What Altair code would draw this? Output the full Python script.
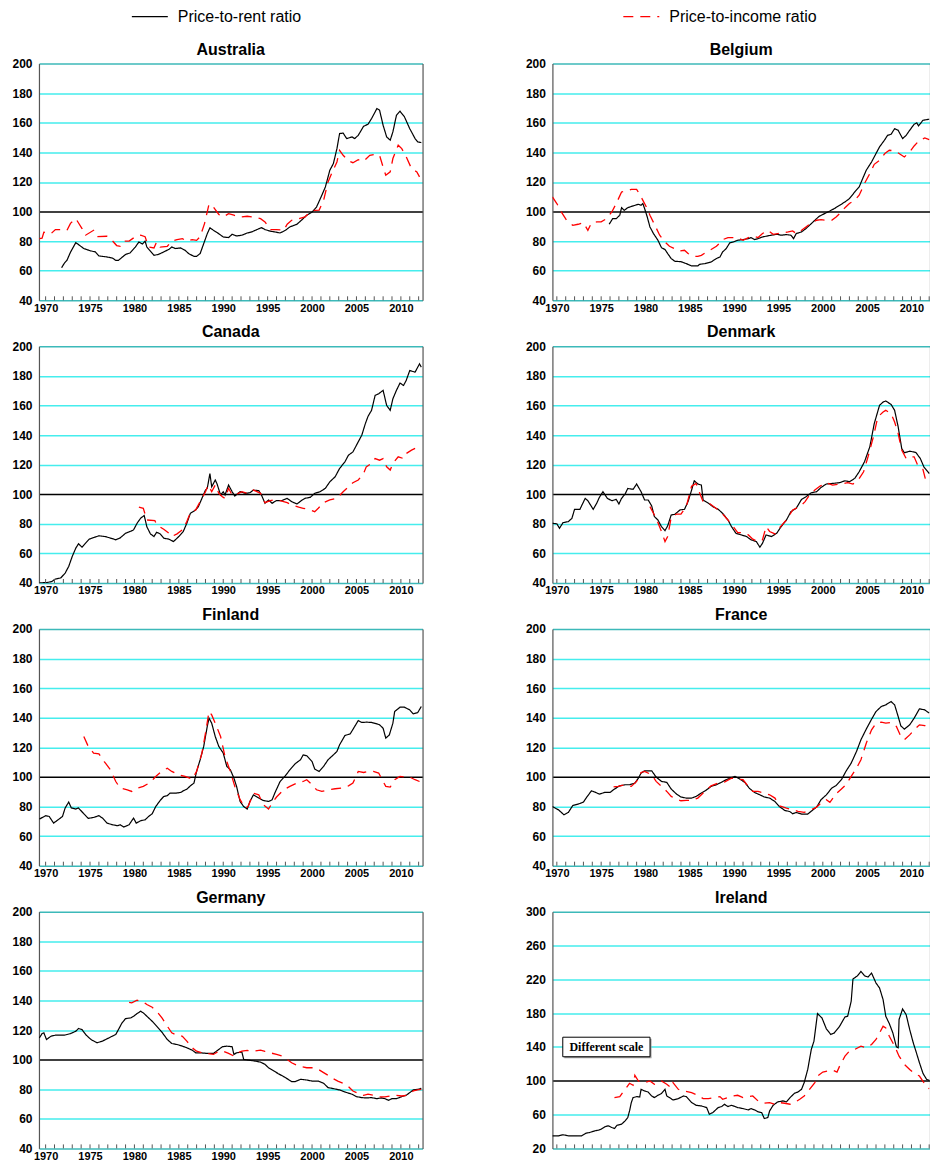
import altair as alt
import pandas as pd

# ---------------------------------------------------------------------------
# Series, axis ticks and styling
# ---------------------------------------------------------------------------
SERIES = ["Price-to-rent ratio", "Price-to-income ratio"]
SERIES_COLORS = ["#000000", "#FF0000"]
SERIES_DASHES = [[1, 0], [10, 7]]

YEAR_LABELS = [1970, 1975, 1980, 1985, 1990, 1995, 2000, 2005, 2010]
YEAR_TICKS = list(range(1970, 2013))
STD_TICKS = [40, 60, 80, 100, 120, 140, 160, 180, 200]
IRL_TICKS = [20, 60, 100, 140, 180, 220, 260, 300]

GRID = "#45EDED"
EDGE = "#3CB9B9"
FRAME = "#555555"
FONT = "Liberation Sans"

# ---------------------------------------------------------------------------
# Data: (year, index) pairs, long-run average = 100
# ---------------------------------------------------------------------------
AUSTRALIA_RENT = [
    (1971.8, 62), (1972.1, 65), (1972.4, 67), (1972.8, 72.5), (1973.4, 79), (1974.3, 75),
    (1975.0, 73.5), (1975.6, 72.7), (1976.0, 70), (1976.9, 69.3), (1977.5, 68.6), (1977.9, 67),
    (1978.2, 67), (1979.0, 71), (1979.5, 72), (1980.1, 76), (1980.5, 79.4), (1980.9, 78),
    (1981.2, 80), (1981.4, 76), (1982.2, 70.4), (1982.7, 71), (1983.3, 72.7), (1983.9, 74.5),
    (1984.2, 76), (1984.6, 75), (1985.2, 75.4), (1985.7, 73.8), (1986.1, 71.6), (1986.7, 69.7),
    (1987.0, 69.7), (1987.4, 71.6), (1987.8, 78.3), (1988.2, 85), (1988.5, 89), (1988.9, 87.3),
    (1989.5, 85), (1990.0, 82.8), (1990.6, 82.4), (1991.0, 84.6), (1991.5, 83.5), (1992.1, 84),
    (1992.7, 85.5), (1993.2, 86.2), (1993.8, 87.8), (1994.3, 89.1), (1994.7, 87.8), (1995.3, 86.7),
    (1995.8, 86.2), (1996.4, 85.5), (1997.0, 87.3), (1997.5, 89.6), (1998.3, 91.4), (1998.8, 94.1),
    (1999.4, 97.5), (2000.0, 99.7), (2000.5, 103), (2001.1, 111), (2001.5, 116.6), (2002.0, 127.9),
    (2002.4, 132.4), (2002.8, 142.5), (2003.1, 152.7), (2003.5, 153), (2003.9, 149.3), (2004.5, 150.4),
    (2004.8, 149.3), (2005.2, 151.5), (2005.8, 157.6), (2006.3, 159), (2006.7, 162.8), (2007.3, 169.6),
    (2007.6, 168.5), (2008.0, 158.3), (2008.4, 150.4), (2008.8, 148.2), (2009.1, 153.8), (2009.5, 165),
    (2009.9, 167.8), (2010.4, 164), (2011.0, 156), (2011.6, 149.3), (2011.9, 147), (2012.3, 146.6),
]
AUSTRALIA_INCOME = [
    (1969.3, 81.7), (1969.6, 82), (1969.8, 86), (1970.6, 85), (1971.1, 87.8), (1971.9, 87.8),
    (1972.4, 87.3), (1972.8, 92), (1973.4, 95.2), (1974.1, 88.5), (1974.5, 84), (1975.4, 87.3),
    (1975.8, 83), (1976.9, 83.3), (1977.3, 81.7), (1978.0, 77), (1978.4, 76.5), (1978.8, 80),
    (1979.4, 80), (1980.1, 83), (1980.7, 84), (1981.2, 83), (1981.6, 76), (1982.2, 75.4),
    (1982.5, 79.4), (1982.9, 76), (1983.7, 76.5), (1984.2, 80), (1984.8, 81), (1985.4, 81.7),
    (1985.9, 80), (1986.5, 81), (1987.0, 80.5), (1987.4, 83), (1987.9, 92), (1988.4, 105),
    (1988.9, 103), (1989.5, 98), (1990.0, 96.3), (1990.6, 98.6), (1991.2, 97.5), (1991.9, 96.3),
    (1992.7, 96.8), (1993.4, 96.3), (1994.2, 95.2), (1994.7, 93), (1995.3, 87.8), (1996.0, 87.8),
    (1996.8, 87.3), (1997.2, 91.4), (1997.7, 94.1), (1998.5, 95.2), (1999.2, 96.3), (1999.8, 99.7),
    (2000.3, 100.8), (2000.8, 101), (2001.3, 107.6), (2001.8, 120), (2002.2, 125.6), (2002.8, 133.5),
    (2003.1, 141.4), (2003.5, 138), (2004.1, 134.2), (2004.6, 133), (2005.2, 135), (2005.8, 134),
    (2006.5, 138), (2007.1, 138.7), (2007.6, 138), (2008.0, 130), (2008.3, 124.5), (2008.8, 126.8),
    (2009.1, 135.8), (2009.7, 144.8), (2010.1, 142.5), (2010.6, 137), (2011.2, 129), (2011.8, 126.8),
    (2012.1, 123.4),
]

BELGIUM_RENT = [
    (1975.9, 91.4), (1976.3, 95.2), (1976.7, 95.2), (1977.1, 97.5), (1977.3, 102.6), (1977.6, 100.8),
    (1978.0, 102.6), (1978.6, 103.8), (1979.2, 104.9), (1979.5, 104.2), (1979.7, 105.4), (1979.9, 102),
    (1980.2, 96.3), (1980.5, 89.6), (1980.9, 85.1), (1981.4, 80.6), (1981.8, 75.6), (1982.2, 74.3),
    (1982.5, 71.6), (1982.9, 68.2), (1983.3, 66.4), (1984.0, 66.1), (1984.6, 64.8), (1985.2, 63.2),
    (1985.9, 63.2), (1986.1, 64.3), (1986.7, 64.8), (1987.4, 65.9), (1988.0, 68.2), (1988.4, 69.3),
    (1988.7, 72.7), (1989.1, 74.9), (1989.5, 78.8), (1989.9, 79.4), (1990.4, 80.6), (1991.0, 81),
    (1991.6, 81.7), (1991.9, 82.4), (1992.3, 81), (1992.7, 81.7), (1993.2, 82.8), (1993.6, 83.3),
    (1994.2, 84), (1994.8, 84.6), (1995.3, 84), (1995.9, 84.4), (1996.4, 84), (1996.7, 81.7),
    (1997.0, 85.1), (1997.6, 86.2), (1998.1, 88.5), (1998.7, 91.8), (1999.3, 95.2), (1999.6, 96.8),
    (2000.2, 98.6), (2000.8, 100.4), (2001.3, 102), (2001.9, 104.2), (2002.5, 106.5), (2003.0, 108.7),
    (2003.6, 113.2), (2004.1, 116.6), (2004.5, 122.3), (2004.9, 127.9), (2005.5, 133.5), (2006.0, 139.2),
    (2006.4, 143.7), (2007.0, 148.6), (2007.3, 151.5), (2007.7, 152.2), (2008.1, 156), (2008.5, 154.9),
    (2008.8, 151.5), (2009.0, 149.3), (2009.4, 151.5), (2009.8, 154.9), (2010.3, 159), (2010.6, 159.9),
    (2010.8, 157.9), (2011.3, 161.7), (2012.0, 162.4),
]
BELGIUM_INCOME = [
    (1969.5, 109.9), (1970.0, 105.4), (1970.5, 99.7), (1971.1, 94.1), (1971.8, 90.7), (1972.4, 91.4),
    (1973.0, 92.5), (1973.5, 87.3), (1973.9, 92.3), (1974.5, 93), (1975.0, 93), (1975.6, 95.2),
    (1976.2, 99.7), (1976.7, 105.4), (1977.3, 113.2), (1977.8, 113.9), (1978.4, 115), (1979.0, 115),
    (1979.5, 109.9), (1980.1, 103.1), (1980.5, 97.5), (1981.0, 91.4), (1981.6, 84), (1982.2, 79.4),
    (1982.7, 76.5), (1983.3, 74.9), (1983.9, 73.4), (1984.4, 73.8), (1984.8, 71.6), (1985.4, 69.7),
    (1985.9, 69.7), (1986.3, 70.4), (1986.9, 72.7), (1987.4, 74.3), (1988.0, 76.5), (1988.4, 78.8),
    (1988.7, 81), (1989.3, 82.4), (1989.9, 82.4), (1990.4, 82.4), (1991.0, 80.6), (1991.6, 82.4),
    (1992.1, 83.3), (1992.7, 82.4), (1993.2, 85.1), (1993.8, 87.3), (1994.4, 84.6), (1994.9, 85.1),
    (1995.5, 85.5), (1996.1, 86.2), (1996.6, 86.9), (1997.0, 85.1), (1997.6, 87.3), (1998.1, 89.6),
    (1998.7, 92.3), (1999.3, 94.1), (1999.8, 94.5), (2000.4, 94.1), (2001.0, 94.1), (2001.5, 96.3),
    (2001.9, 98.6), (2002.5, 102.6), (2003.0, 105.4), (2003.6, 107.6), (2004.1, 111), (2004.7, 118.9),
    (2005.3, 125.6), (2005.8, 131.9), (2006.4, 134.6), (2007.0, 139.2), (2007.5, 141.4), (2008.1, 141),
    (2008.6, 139.2), (2009.2, 136.9), (2009.8, 140.3), (2010.3, 144.3), (2010.9, 148.2), (2011.5, 149.7),
    (2012.0, 148.6),
]

CANADA_RENT = [
    (1969.3, 40), (1970.2, 40.4), (1970.7, 41), (1971.1, 42.7), (1971.7, 43.4), (1972.2, 46.7),
    (1972.6, 51.2), (1973.0, 58), (1973.4, 63.6), (1973.7, 66.5), (1974.1, 64.2), (1974.5, 67),
    (1974.9, 69.6), (1975.4, 70.7), (1976.0, 71.9), (1976.7, 71.4), (1977.5, 70), (1977.9, 69.2),
    (1978.4, 70.5), (1979.0, 73.6), (1979.6, 75), (1979.9, 75.9), (1980.3, 80.4), (1980.7, 83.8),
    (1981.1, 85.6), (1981.4, 78), (1981.8, 73.2), (1982.2, 71.4), (1982.5, 74.3), (1982.9, 73.2),
    (1983.3, 70.3), (1983.9, 69.6), (1984.4, 68), (1985.0, 71.4), (1985.5, 74.8), (1985.9, 80.4),
    (1986.3, 87.1), (1986.9, 89.4), (1987.2, 91.6), (1987.6, 97.2), (1988.0, 102.8), (1988.2, 104),
    (1988.5, 114), (1988.7, 105), (1989.1, 109.6), (1989.3, 107), (1989.7, 99.5), (1990.0, 101.7),
    (1990.2, 99.5), (1990.6, 106.2), (1991.0, 101.7), (1991.3, 98.8), (1991.9, 101.7), (1992.5, 100.6),
    (1993.0, 101), (1993.4, 102.8), (1994.0, 102.4), (1994.3, 99.5), (1994.7, 93.9), (1995.1, 96.1),
    (1995.5, 93.9), (1996.0, 95.7), (1996.6, 95.7), (1997.2, 97.2), (1997.7, 95), (1998.3, 93.4),
    (1998.8, 95.7), (1999.2, 97.2), (1999.8, 97.9), (2000.3, 100.6), (2000.9, 101.7), (2001.5, 104),
    (2002.0, 108.4), (2002.6, 111.8), (2003.1, 117.4), (2003.7, 121.9), (2004.1, 126.4), (2004.6, 128.6),
    (2005.2, 135.4), (2005.6, 139.9), (2006.0, 147.7), (2006.3, 152.6), (2006.7, 156.7), (2007.1, 166.8),
    (2007.5, 167.9), (2008.0, 170.2), (2008.4, 160), (2008.8, 156.7), (2009.1, 164.5), (2009.5, 170.2),
    (2009.9, 175.1), (2010.3, 173.5), (2010.6, 176.9), (2011.0, 183.6), (2011.6, 182.5), (2012.1, 188.1),
    (2012.3, 185.9),
]
CANADA_INCOME = [
    (1980.5, 91.2), (1981.0, 90.5), (1981.4, 82.6), (1982.3, 82.2), (1982.5, 79.3), (1983.3, 76.3),
    (1983.9, 73.6), (1984.2, 71.4), (1984.8, 73.2), (1985.4, 75.9), (1985.9, 81.5), (1986.3, 87.6),
    (1986.9, 89.4), (1987.4, 95), (1988.0, 101.7), (1988.3, 106.2), (1988.7, 101.7), (1989.1, 106.2),
    (1989.5, 100.6), (1989.9, 98.3), (1990.2, 97.2), (1990.6, 104), (1991.0, 99.5), (1991.5, 100),
    (1992.1, 101.7), (1992.7, 100.6), (1993.4, 102.8), (1994.2, 100.6), (1994.7, 94.3), (1995.3, 95.7),
    (1995.8, 96.1), (1996.4, 95.7), (1997.2, 94.3), (1997.7, 92.7), (1998.5, 91.2), (1999.0, 90.5),
    (1999.8, 89.4), (2000.3, 88.2), (2000.7, 90.5), (2001.3, 94.3), (2002.0, 96.1), (2002.8, 97.2),
    (2003.5, 101.7), (2004.1, 105), (2004.6, 107.8), (2005.2, 109.6), (2005.8, 114), (2006.1, 118.5),
    (2006.7, 120.8), (2007.1, 124.1), (2007.6, 123), (2008.0, 124.1), (2008.4, 118.5), (2008.8, 116.3),
    (2009.1, 120.8), (2009.7, 125.3), (2010.3, 124.1), (2010.6, 127.5), (2011.2, 129.8), (2011.8, 131.6),
    (2012.2, 133.1),
]

DENMARK_RENT = [
    (1969.5, 80.4), (1970.0, 80), (1970.3, 77), (1970.7, 80.8), (1971.3, 81.5), (1971.7, 83.7),
    (1972.0, 89.8), (1972.6, 89.8), (1973.2, 97.2), (1973.5, 95.6), (1974.1, 89.8), (1974.5, 93.9),
    (1974.8, 97.9), (1975.2, 101.7), (1975.7, 97.2), (1976.2, 95.6), (1976.7, 96.5), (1977.0, 93.4),
    (1977.3, 97.2), (1977.7, 100.1), (1978.0, 103.9), (1978.6, 103.3), (1979.0, 106.9), (1979.5, 101.7),
    (1979.9, 96.1), (1980.3, 96.1), (1980.7, 92.1), (1981.0, 84.9), (1981.4, 82.6), (1981.8, 78.1),
    (1982.2, 75.4), (1982.5, 78.6), (1982.9, 86), (1983.3, 86.4), (1983.9, 89.4), (1984.4, 89.8),
    (1984.8, 95), (1985.2, 102.8), (1985.5, 109.1), (1985.9, 106.9), (1986.3, 106.2), (1986.5, 96.1),
    (1987.1, 93.9), (1987.6, 91.6), (1988.2, 89.8), (1988.7, 87.1), (1989.3, 82.6), (1989.7, 78.1),
    (1990.2, 73.6), (1990.8, 72.5), (1991.4, 71.4), (1991.9, 69.2), (1992.5, 68), (1992.9, 64.2),
    (1993.2, 66.9), (1993.6, 72.5), (1994.2, 71.4), (1994.8, 73.6), (1995.3, 78.1), (1995.9, 82.6),
    (1996.4, 88.2), (1997.0, 90.5), (1997.6, 96.5), (1998.1, 98.3), (1998.7, 101), (1999.3, 101.7),
    (1999.8, 104.6), (2000.4, 106.9), (2001.1, 107.3), (2001.9, 107.8), (2002.5, 109.1), (2003.0, 108.4),
    (2003.6, 110.7), (2004.1, 115.2), (2004.7, 121.9), (2005.3, 132), (2005.8, 147.7), (2006.4, 160.1),
    (2006.8, 162.3), (2007.1, 163), (2007.7, 160.7), (2008.1, 156.7), (2008.5, 145.5), (2008.9, 130.9),
    (2009.2, 128), (2009.8, 129.1), (2010.5, 128.2), (2011.0, 124.1), (2011.4, 118.5), (2012.0, 114),
]
DENMARK_INCOME = [
    (1980.5, 91.6), (1981.2, 83.8), (1981.8, 74.8), (1982.2, 68), (1982.5, 71.4), (1982.9, 84.4),
    (1983.5, 86.6), (1984.0, 86.6), (1984.6, 91.6), (1985.2, 105.5), (1985.7, 107.3), (1986.1, 101),
    (1986.5, 95), (1987.1, 94.3), (1987.6, 92.1), (1988.2, 89.4), (1988.7, 86.6), (1989.3, 82.6),
    (1989.9, 78.1), (1990.4, 74.1), (1991.0, 74.1), (1991.6, 72.5), (1992.1, 69.6), (1992.7, 68),
    (1993.2, 69.2), (1993.6, 78.1), (1994.0, 74.8), (1994.6, 73.2), (1995.3, 78.6), (1995.9, 82.6),
    (1996.6, 89.4), (1997.4, 91.6), (1998.0, 95), (1998.5, 99.5), (1999.1, 102.8), (1999.7, 105.5),
    (2000.4, 107.8), (2001.1, 106.2), (2002.1, 106.9), (2002.8, 107.8), (2003.4, 106.9), (2004.0, 109.6),
    (2004.6, 115.2), (2005.1, 125.3), (2005.7, 138.7), (2006.2, 152.2), (2006.8, 155.6), (2007.1, 156.7),
    (2007.7, 154.4), (2008.1, 148.8), (2008.5, 141), (2008.9, 129.8), (2009.4, 124.1), (2009.8, 125.3),
    (2010.3, 125.3), (2010.7, 119.7), (2011.3, 116.7), (2011.6, 109.6), (2012.0, 108.4),
]

FINLAND_RENT = [
    (1969.3, 71.5), (1970.0, 73.8), (1970.4, 73.3), (1970.9, 68.8), (1971.4, 71), (1971.9, 73.3),
    (1972.2, 79), (1972.6, 83), (1972.9, 79), (1973.4, 78.3), (1973.7, 79), (1974.3, 75.1),
    (1974.8, 72), (1975.4, 72.6), (1976.0, 73.8), (1976.4, 72.2), (1976.9, 68.8), (1977.5, 67.7),
    (1978.1, 67), (1978.4, 67.7), (1978.8, 66.1), (1979.4, 67.7), (1979.9, 72.2), (1980.2, 68.8),
    (1980.7, 70.4), (1981.2, 71), (1981.6, 73.3), (1982.0, 75.1), (1982.4, 80), (1982.9, 84.1),
    (1983.3, 86.8), (1983.7, 87.3), (1984.0, 89), (1984.6, 89), (1985.2, 89.5), (1985.5, 90.6),
    (1985.9, 91.7), (1986.3, 94), (1986.7, 95.8), (1987.0, 103.7), (1987.4, 111.6), (1987.8, 120.6),
    (1988.2, 134.1), (1988.4, 139.7), (1988.7, 136.3), (1989.1, 127.3), (1989.5, 120.6), (1990.0, 116.1),
    (1990.4, 107.1), (1990.8, 104.8), (1991.2, 99.2), (1991.5, 93.6), (1991.9, 83.4), (1992.3, 80),
    (1992.7, 78.3), (1993.0, 83.4), (1993.4, 87.9), (1994.0, 85.7), (1994.5, 84.1), (1995.1, 83.4),
    (1995.5, 84.5), (1995.8, 89), (1996.4, 96.9), (1997.0, 100.8), (1997.5, 104.8), (1998.1, 108.9),
    (1998.7, 111.6), (1999.0, 114.9), (1999.4, 114.3), (2000.0, 110.4), (2000.3, 105.3), (2000.8, 103.7),
    (2001.3, 107.1), (2001.8, 111.6), (2002.4, 114.9), (2002.8, 117.2), (2003.1, 121.7), (2003.7, 128),
    (2004.3, 129.1), (2004.8, 134.1), (2005.2, 138.1), (2005.6, 136.8), (2006.1, 137), (2006.7, 136.8),
    (2007.3, 135.9), (2007.6, 135.2), (2008.0, 132.9), (2008.3, 126.2), (2008.7, 128.4), (2009.1, 136.3),
    (2009.3, 144.2), (2009.9, 147.1), (2010.4, 147.1), (2011.0, 145.3), (2011.4, 142.6), (2011.9, 143.5),
    (2012.3, 147.6),
]
FINLAND_INCOME = [
    (1974.3, 127.3), (1974.8, 120.6), (1975.4, 116.1), (1976.0, 115.6), (1976.6, 110.4), (1977.3, 104.8),
    (1977.9, 96.9), (1978.4, 92.4), (1979.2, 91.3), (1979.7, 90.2), (1980.3, 92.4), (1981.0, 93.6),
    (1981.8, 96.3), (1982.4, 100.3), (1982.9, 103), (1983.7, 105.9), (1984.2, 103.7), (1985.0, 101.4),
    (1985.7, 100.3), (1986.5, 98.5), (1987.0, 103.7), (1987.6, 116.1), (1988.0, 129.6), (1988.4, 144.2),
    (1988.7, 141.9), (1989.1, 136.3), (1989.7, 127.3), (1990.2, 113.8), (1990.8, 103.7), (1991.3, 93.6),
    (1991.9, 84.6), (1992.5, 79), (1992.8, 80), (1993.4, 89), (1994.0, 87.9), (1994.5, 81.2),
    (1995.1, 78.3), (1995.5, 82.3), (1996.0, 86.4), (1996.8, 91.3), (1997.5, 93.6), (1998.3, 95.8),
    (1999.0, 96.9), (1999.4, 98.1), (2000.0, 94.7), (2000.5, 91.3), (2001.1, 90.2), (2001.8, 91.3),
    (2002.6, 92), (2003.3, 92.4), (2004.1, 94), (2004.6, 95.8), (2005.2, 103.7), (2005.8, 103),
    (2006.3, 103.7), (2006.9, 103.7), (2007.5, 102.6), (2007.9, 98.1), (2008.3, 93.6), (2008.8, 93.1),
    (2009.3, 98.1), (2009.9, 100.3), (2010.4, 99.9), (2011.0, 99.9), (2011.6, 98.1), (2012.1, 96.9),
]

FRANCE_RENT = [
    (1969.5, 80), (1970.2, 77.7), (1970.8, 74.4), (1971.3, 76), (1971.8, 80.7), (1972.4, 81.6),
    (1973.0, 83), (1973.3, 85.7), (1973.9, 90.6), (1974.3, 89.7), (1974.8, 88.4), (1975.4, 89.5),
    (1976.0, 89.5), (1976.5, 91.8), (1977.1, 94), (1977.7, 94.7), (1978.2, 94.7), (1978.8, 95.8),
    (1979.2, 99.2), (1979.5, 102.6), (1979.9, 104.1), (1980.7, 104.1), (1981.2, 99.9), (1981.8, 97),
    (1982.4, 96.3), (1982.9, 91.8), (1983.5, 88.4), (1984.0, 86.4), (1984.6, 85.7), (1985.2, 85.7),
    (1985.7, 86.8), (1986.3, 89.1), (1986.9, 91.3), (1987.4, 93.6), (1988.0, 94.7), (1988.6, 96.5),
    (1989.1, 98.1), (1989.7, 99.6), (1990.1, 100.3), (1990.6, 98.7), (1991.2, 96.3), (1991.7, 92.4),
    (1992.3, 89.5), (1992.9, 87.9), (1993.4, 86.4), (1994.0, 85.7), (1994.6, 83.4), (1995.1, 80),
    (1995.7, 77.4), (1996.3, 76.5), (1996.6, 75.1), (1997.0, 76), (1997.6, 74.9), (1998.3, 74.9),
    (1998.9, 77.8), (1999.3, 79.6), (1999.8, 84.6), (2000.4, 87.9), (2001.0, 92.4), (2001.5, 94.2),
    (2002.1, 98.1), (2002.6, 103.7), (2003.2, 109.3), (2003.8, 117.2), (2004.3, 125.1), (2004.9, 132.3),
    (2005.5, 139), (2006.0, 144.2), (2006.6, 147.6), (2007.1, 148.7), (2007.7, 150.9), (2008.1, 148.7),
    (2008.5, 140.8), (2008.8, 134.5), (2009.2, 132.3), (2009.8, 135.2), (2010.3, 139.7), (2010.9, 146),
    (2011.5, 145.3), (2012.0, 143.1),
]
FRANCE_INCOME = [
    (1976.4, 93.2), (1976.9, 93.6), (1977.7, 94.7), (1978.4, 93.6), (1979.0, 97), (1979.5, 103),
    (1979.9, 103.7), (1980.7, 101.4), (1981.2, 97), (1981.8, 93.6), (1982.4, 90.2), (1982.9, 86.8),
    (1983.5, 85), (1984.0, 83.9), (1984.6, 84.1), (1985.2, 84.1), (1985.9, 85.7), (1986.7, 90.2),
    (1987.4, 94), (1988.2, 95.8), (1988.9, 96.5), (1989.7, 99.2), (1990.2, 98.7), (1991.0, 98.1),
    (1991.6, 93.6), (1992.1, 90.2), (1992.7, 90.2), (1993.4, 89.1), (1994.0, 87.9), (1994.6, 85.7),
    (1995.1, 80.5), (1995.9, 78.9), (1996.6, 77.8), (1997.2, 76.7), (1997.9, 76), (1998.7, 77.8),
    (1999.3, 79.6), (1999.8, 82.3), (2000.4, 84.6), (2000.8, 82.8), (2001.5, 88.6), (2002.1, 91.8),
    (2002.6, 94.7), (2003.2, 100.3), (2003.8, 105.9), (2004.3, 111.6), (2004.9, 122.8), (2005.5, 131.8),
    (2006.0, 136.3), (2006.6, 137), (2007.1, 136.3), (2007.7, 136.8), (2008.3, 134.1), (2008.8, 127.3),
    (2009.2, 125.1), (2009.8, 128.4), (2010.3, 131.8), (2010.9, 135.2), (2011.5, 134.7), (2012.0, 132.9),
]

GERMANY_RENT = [
    (1969.3, 114.7), (1969.6, 117.6), (1969.8, 118.1), (1970.1, 113.6), (1970.6, 115.8), (1971.1, 116.5),
    (1972.1, 116.5), (1972.8, 117.6), (1973.4, 119.2), (1973.7, 121), (1974.1, 120.3), (1974.5, 117),
    (1974.9, 114.7), (1975.2, 113.2), (1975.8, 111.4), (1976.4, 112.5), (1976.9, 114), (1977.5, 115.8),
    (1977.9, 117), (1978.2, 120.3), (1978.6, 124.8), (1979.0, 127.7), (1979.6, 128.2), (1979.9, 129.3),
    (1980.3, 131.1), (1980.7, 132.7), (1981.0, 131.6), (1981.4, 129.3), (1982.0, 125.9), (1982.5, 122.6),
    (1983.1, 118.5), (1983.7, 113.6), (1984.2, 110.9), (1984.8, 110.2), (1985.4, 109.1), (1985.9, 108),
    (1986.5, 106.4), (1986.9, 104.6), (1987.4, 104.6), (1988.2, 104.2), (1988.9, 104.2), (1989.5, 106.9),
    (1989.9, 108.7), (1990.4, 109.1), (1991.0, 108.7), (1991.2, 103.5), (1991.5, 104.6), (1992.1, 105.1),
    (1992.3, 100.1), (1992.8, 99.7), (1993.6, 99), (1994.2, 98.3), (1994.7, 96.8), (1995.1, 94.5),
    (1995.7, 92.3), (1996.2, 90.5), (1996.8, 88.5), (1997.3, 86.7), (1997.7, 85.1), (1998.1, 85.1),
    (1998.7, 86.7), (1999.4, 86.2), (2000.0, 85.5), (2000.7, 85.5), (2001.3, 84), (2001.8, 81.1),
    (2002.4, 80.4), (2003.1, 79.5), (2003.7, 78.1), (2004.5, 76.6), (2005.0, 75), (2005.6, 74.3),
    (2006.1, 74.1), (2006.7, 74.3), (2007.3, 73.6), (2007.8, 74.1), (2008.2, 73.6), (2008.6, 72.5),
    (2009.0, 73.6), (2009.5, 73.6), (2010.1, 75), (2010.6, 75.9), (2011.0, 77.7), (2011.4, 79.5),
    (2011.9, 79.9), (2012.3, 80.6),
]
GERMANY_INCOME = [
    (1979.4, 138.7), (1979.7, 138.3), (1980.3, 140.1), (1980.9, 139.4), (1981.4, 137.2), (1982.0, 135.4),
    (1982.5, 132.7), (1983.1, 128.2), (1983.7, 122.6), (1984.2, 118.1), (1984.8, 116.5), (1985.4, 115.8),
    (1985.9, 112.5), (1986.5, 108), (1987.0, 105.7), (1987.6, 104.6), (1988.2, 104.2), (1988.9, 103.5),
    (1989.5, 105.7), (1990.0, 105.7), (1990.6, 104.2), (1991.2, 102.4), (1991.6, 104.6), (1992.1, 105.7),
    (1992.7, 106.2), (1993.4, 105.7), (1994.2, 106.4), (1994.7, 105.5), (1995.3, 104.6), (1996.0, 103.5),
    (1996.6, 102.4), (1997.2, 100.1), (1997.7, 97.9), (1998.3, 96.1), (1998.8, 95.2), (1999.4, 94.5),
    (2000.1, 94.5), (2000.7, 93.4), (2001.3, 91.2), (2001.8, 89.4), (2002.4, 87.1), (2002.9, 85.5),
    (2003.5, 84), (2004.1, 81.7), (2004.6, 78.8), (2005.2, 77.2), (2005.8, 75.9), (2006.3, 76.6),
    (2006.9, 75.9), (2007.6, 74.8), (2008.2, 74.8), (2008.8, 75.4), (2009.5, 75.9), (2010.1, 75.4),
    (2010.6, 75.9), (2011.4, 78.8), (2011.9, 79.5), (2012.3, 79.9),
]

IRELAND_RENT = [
    (1969.5, 34.9), (1970.2, 34.9), (1970.7, 36.1), (1971.3, 34.9), (1972.0, 34.9), (1972.8, 34.9),
    (1973.3, 38), (1973.7, 38.8), (1974.3, 40.8), (1974.7, 41.6), (1975.0, 42.7), (1975.4, 45.5),
    (1975.8, 46.7), (1976.2, 44.7), (1976.5, 43.5), (1976.8, 47.4), (1977.3, 48.6), (1977.7, 52.5),
    (1978.0, 56.5), (1978.2, 64.3), (1978.4, 74.2), (1978.6, 80.1), (1979.0, 81.2), (1979.35, 80.8),
    (1979.5, 89.9), (1979.9, 87.9), (1980.3, 86.7), (1980.7, 82), (1981.0, 80.1), (1981.4, 82.8),
    (1981.8, 84.8), (1982.2, 89.9), (1982.4, 82), (1982.7, 80.1), (1983.1, 77.3), (1983.7, 78.9),
    (1984.3, 82), (1984.6, 81.2), (1985.2, 74.2), (1985.7, 71), (1986.3, 70.2), (1986.9, 68.3),
    (1987.2, 60.4), (1987.6, 62.4), (1988.2, 68.3), (1988.6, 69.5), (1988.9, 72.2), (1989.3, 69.5),
    (1989.7, 71), (1990.1, 69.5), (1990.4, 68.3), (1991.0, 67.1), (1991.6, 65.5), (1991.9, 67.1),
    (1992.3, 65.5), (1992.7, 63.2), (1993.1, 62.4), (1993.4, 55.3), (1993.8, 56.5), (1994.0, 64.3),
    (1994.4, 71), (1994.9, 74.9), (1995.5, 76.1), (1995.9, 75), (1996.3, 80), (1996.8, 85.2),
    (1997.2, 86.7), (1997.6, 89.9), (1997.9, 97.8), (1998.3, 113.4), (1998.7, 137), (1999.0, 146.8),
    (1999.4, 179.4), (1999.9, 174.3), (2000.4, 161.4), (2000.9, 154.7), (2001.3, 156.6), (2001.9, 164.5),
    (2002.5, 175.5), (2002.8, 176.3), (2003.2, 194), (2003.4, 220.3), (2003.9, 224), (2004.3, 229.3),
    (2004.7, 224.2), (2005.1, 222.6), (2005.5, 227.3), (2006.0, 215.6), (2006.4, 209.7), (2006.8, 195.9),
    (2007.1, 176.3), (2007.5, 167.6), (2007.9, 156.6), (2008.3, 140.1), (2008.5, 139), (2008.6, 172.4),
    (2009.0, 184.9), (2009.4, 178.2), (2009.8, 160.6), (2010.2, 144.9), (2010.5, 135), (2010.9, 121.3),
    (2011.3, 108.7), (2011.7, 101.7), (2012.0, 100.5),
]
IRELAND_INCOME = [
    (1976.5, 80.1), (1977.1, 81.2), (1977.7, 89.9), (1978.2, 97), (1978.6, 94.6), (1978.8, 106.4),
    (1979.2, 99.7), (1979.9, 97.8), (1980.5, 99.7), (1981.0, 95.8), (1981.4, 97.8), (1981.8, 99.7),
    (1982.4, 95.8), (1982.9, 91.8), (1983.1, 97.8), (1983.7, 89.9), (1984.4, 87.9), (1985.2, 85.9),
    (1985.9, 82.8), (1986.5, 78.9), (1987.1, 78.9), (1987.8, 80.1), (1988.4, 81.2), (1988.7, 78.1),
    (1989.3, 80.1), (1989.9, 82), (1990.4, 82.8), (1991.0, 80.1), (1991.6, 81.2), (1992.1, 82),
    (1992.7, 76.1), (1993.4, 73.4), (1994.0, 74.2), (1994.6, 72.2), (1995.1, 74.2), (1995.7, 73.4),
    (1996.3, 72.2), (1996.8, 74.2), (1997.4, 78.1), (1997.9, 82), (1998.5, 89.9), (1999.1, 97.8),
    (1999.4, 105.6), (2000.0, 110.3), (2000.6, 111.5), (2001.1, 112.7), (2001.6, 110.3), (2001.9, 117.4),
    (2002.5, 129.1), (2003.0, 135), (2003.6, 137), (2004.3, 140.9), (2004.9, 139), (2005.5, 142.9),
    (2006.0, 148.8), (2006.4, 156.6), (2006.8, 164.5), (2007.1, 162.5), (2007.5, 152.7), (2008.1, 140.9),
    (2008.6, 129.1), (2009.2, 119.3), (2009.8, 113.4), (2010.3, 108.7), (2010.9, 105.6), (2011.4, 97.8),
    (2011.8, 91.8), (2012.0, 90.7),
]

# Annotation box on the Ireland panel (data coordinates)
NOTE_TEXT = "Different scale"
NOTE_BOX = {"x": 1970.67, "x2": 1980.51, "y": 151.5, "y2": 128.4}

# Panel geometry
LEFT_X = [1969.25, 2012.44]
RIGHT_X = [1969.5, 2012.09]
LEFT_W, RIGHT_W, PANEL_H = 384, 378, 237

LEGEND = alt.Legend(
    title=None, orient="none", legendX=92, legendY=-66, direction="horizontal",
    symbolType="stroke", symbolSize=1296, symbolStrokeWidth=1.2,
    labelFontSize=16, labelFont=FONT, labelColor="#000000", labelOffset=9,
    columnPadding=319, labelLimit=400,
)


def panel(name, rent, income, x_domain, width, y_ticks, note=False):
    rows = [(SERIES[0], yr, v) for yr, v in rent] + [(SERIES[1], yr, v) for yr, v in income]
    df = pd.DataFrame(rows, columns=["series", "year", "value"])

    lo, hi = y_ticks[0], y_ticks[-1]
    xs = alt.Scale(domain=x_domain, nice=False, zero=False)
    ys = alt.Scale(domain=[lo, hi], nice=False, zero=False)

    x_enc = alt.X(
        "year:Q", scale=xs,
        axis=alt.Axis(values=YEAR_LABELS, format="d", title=None, grid=False, ticks=False,
                      domain=False, labelPadding=2, labelFontSize=11, labelFont=FONT,
                      labelFontWeight="bold", labelColor="#000000", labelFlush=False),
    )
    grid_color = {
        "condition": [
            {"test": "datum.value === 100", "value": "#000000"},
            {"test": f"datum.value === {lo} || datum.value === {hi}", "value": EDGE},
        ],
        "value": GRID,
    }
    y_left = alt.Y(
        "value:Q", scale=ys,
        axis=alt.Axis(values=y_ticks, title=None, grid=True, gridColor=grid_color, gridWidth=1.5,
                      gridOpacity=1, ticks=False, domainColor=FRAME, domainWidth=1.2, labelPadding=7,
                      labelFontSize=12, labelFont=FONT, labelFontWeight="bold",
                      labelColor="#000000", labelFlush=False),
    )
    y_plain = alt.Y("value:Q", scale=ys, axis=None)
    y_right = alt.Y(
        "value:Q", scale=ys,
        axis=alt.Axis(orient="right", title=None, labels=False, ticks=False, grid=False,
                      domainColor=FRAME, domainWidth=1.2),
    )
    color = alt.Color("series:N", scale=alt.Scale(domain=SERIES, range=SERIES_COLORS), legend=LEGEND)
    dash = alt.StrokeDash("series:N", scale=alt.Scale(domain=SERIES, range=SERIES_DASHES), legend=LEGEND)

    base = alt.Chart(df)
    rent_line = base.transform_filter(alt.datum.series == SERIES[0]).mark_line(
        strokeWidth=1.2, clip=True).encode(x=x_enc, y=y_left, color=color, strokeDash=dash)
    income_line = base.transform_filter(alt.datum.series == SERIES[1]).mark_line(
        strokeWidth=1.3, clip=True).encode(x=x_enc, y=y_plain, color=color, strokeDash=dash)
    right_edge = base.mark_line(opacity=0).encode(x=x_enc, y=y_right)
    year_ticks = alt.Chart(pd.DataFrame({"year": YEAR_TICKS})).mark_rule(
        color=FRAME, strokeWidth=1).encode(x=x_enc, y=alt.value(PANEL_H), y2=alt.value(PANEL_H - 4))

    layers = [rent_line, income_line, right_edge, year_ticks]
    if note:
        box = pd.DataFrame([NOTE_BOX])
        shadow = alt.Chart(box).mark_rect(fill="#9a9a9a", xOffset=1.5, yOffset=1.5, x2Offset=1.5,
                                          y2Offset=1.5).encode(
            x=alt.X("x:Q", scale=xs, axis=None), x2="x2:Q",
            y=alt.Y("y:Q", scale=ys, axis=None), y2="y2:Q")
        frame = alt.Chart(box).mark_rect(fill="#ffffff", stroke="#000000", strokeWidth=1).encode(
            x=alt.X("x:Q", scale=xs, axis=None), x2="x2:Q",
            y=alt.Y("y:Q", scale=ys, axis=None), y2="y2:Q")
        label = alt.Chart(pd.DataFrame({"text": [NOTE_TEXT],
                                        "x": [(NOTE_BOX["x"] + NOTE_BOX["x2"]) / 2],
                                        "y": [(NOTE_BOX["y"] + NOTE_BOX["y2"]) / 2]})).mark_text(
            font="Liberation Serif", fontWeight="bold", fontSize=12, color="#000000",
            align="center", baseline="middle").encode(
            x=alt.X("x:Q", scale=xs, axis=None), y=alt.Y("y:Q", scale=ys, axis=None), text="text:N")
        layers = [shadow, frame, label] + layers

    return alt.layer(*layers).resolve_axis(y="independent").properties(
        width=width, height=PANEL_H,
        title=alt.TitleParams(name, font=FONT, fontSize=16, fontWeight="bold", color="#000000",
                              offset=0, anchor="middle"),
    )


grid = [
    ("Australia", AUSTRALIA_RENT, AUSTRALIA_INCOME, "Belgium", BELGIUM_RENT, BELGIUM_INCOME),
    ("Canada", CANADA_RENT, CANADA_INCOME, "Denmark", DENMARK_RENT, DENMARK_INCOME),
    ("Finland", FINLAND_RENT, FINLAND_INCOME, "France", FRANCE_RENT, FRANCE_INCOME),
    ("Germany", GERMANY_RENT, GERMANY_INCOME, "Ireland", IRELAND_RENT, IRELAND_INCOME),
]

panels = []
for ln, lr, li, rn, rr, ri in grid:
    panels.append(panel(ln, lr, li, LEFT_X, LEFT_W, STD_TICKS))
    if rn == "Ireland":
        panels.append(panel(rn, rr, ri, RIGHT_X, RIGHT_W, IRL_TICKS, note=True))
    else:
        panels.append(panel(rn, rr, ri, RIGHT_X, RIGHT_W, STD_TICKS))

chart = alt.concat(*panels, columns=2, spacing={"row": 46, "column": 130}, bounds="flush").properties(
    padding={"left": 11, "top": -3, "right": 0, "bottom": 0},
    background="#ffffff",
).configure_view(stroke=None)

chart.save("out.html", embed_options={"renderer": "svg", "actions": False})
